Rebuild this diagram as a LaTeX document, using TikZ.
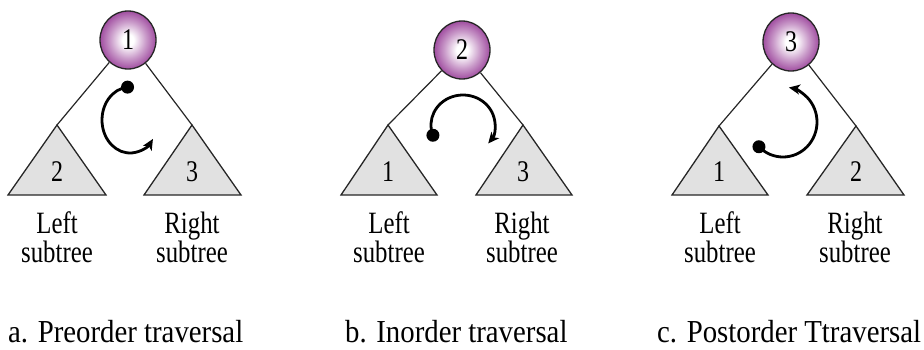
\documentclass[tikz,border=0pt]{standalone}
\usepackage{fontspec}
\setmainfont{Liberation Serif}
\usepackage{graphicx}
\usetikzlibrary{shapes.geometric, arrows.meta}

\definecolor{rootpurple}{RGB}{135,30,135}
\definecolor{treegray}{RGB}{225,225,225}
\pgfdeclareradialshading{rootshade}{\pgfpoint{0bp}{0bp}}{color(0bp)=(white); color(5bp)=(white); color(16bp)=(rootpurple!45!white); color(28bp)=(rootpurple!90!white); color(50bp)=(rootpurple!80!black)}

\newcommand{\narrowtxt}[1]{\scalebox{0.8}[1]{#1}}
\newcommand{\capttxt}[1]{\scalebox{0.9}[1]{#1}}

\tikzset{
  rootnode/.style={ellipse, draw=black!85, line width=1.3pt, shade, shading=rootshade, inner sep=0pt, minimum width=56pt, minimum height=58pt, font=\fontsize{30}{30}\selectfont},
  subtree/.style={fill=treegray, draw=black!85, line width=1.3pt},
  branch/.style={draw=black!85, line width=1.2pt},
  travarrow/.style={line width=2.8pt, -{Stealth[length=11pt, width=10pt, inset=3pt]}},
  travdot/.style={fill=black},
  digit/.style={inner sep=0pt, font=\fontsize{30}{30}\selectfont},
  sublabel/.style={inner sep=0pt, anchor=base, font=\fontsize{31}{31}\selectfont},
  captionlbl/.style={inner sep=0pt, anchor=base west, font=\fontsize{32}{32}\selectfont}
}

\begin{document}
\begin{tikzpicture}[x=1pt, y=1pt]
\useasboundingbox (0,0) rectangle (924,349);

% a. Preorder: root and subtrees
\node[rootnode] (a-root) at (128,309) {\narrowtxt{1}};
\filldraw[subtree] (8,154) -- (57,224) coordinate (a-lt) -- (106,154) -- cycle;
\filldraw[subtree] (144,154) -- (192,224) coordinate (a-rt) -- (241,154) -- cycle;
\draw[branch] (a-root) -- (a-lt);
\draw[branch] (a-root) -- (a-rt);
\node[digit] (a-n2) at (57,177) {\narrowtxt{2}};
\node[digit] (a-n3) at (192,177) {\narrowtxt{3}};
\node[sublabel] (a-left) at (57,116) {\narrowtxt{Left}};
\node[sublabel] (a-lsub) at (57,87) {\narrowtxt{subtree}};
\node[sublabel] (a-right) at (192,116) {\narrowtxt{Right}};
\node[sublabel] (a-rsub) at (192,87) {\narrowtxt{subtree}};
% a. traversal arrow
\draw[travarrow] (130,229) ++(95:28 and 33) coordinate (a-dot) arc[start angle=95, end angle=325, x radius=28, y radius=33];
\fill[travdot] (a-dot) circle (6.5);

% b. Inorder: root and subtrees
\node[rootnode] (b-root) at (462,299) {\narrowtxt{2}};
\filldraw[subtree] (341,154) -- (388,224) coordinate (b-lt) -- (437,154) -- cycle;
\filldraw[subtree] (476,154) -- (523,224) coordinate (b-rt) -- (572,154) -- cycle;
\draw[branch] (b-root) -- (b-lt);
\draw[branch] (b-root) -- (b-rt);
\node[digit] (b-n1) at (388,177) {\narrowtxt{1}};
\node[digit] (b-n3) at (523,177) {\narrowtxt{3}};
\node[sublabel] (b-left) at (389,116) {\narrowtxt{Left}};
\node[sublabel] (b-lsub) at (389,87) {\narrowtxt{subtree}};
\node[sublabel] (b-right) at (522,116) {\narrowtxt{Right}};
\node[sublabel] (b-rsub) at (522,87) {\narrowtxt{subtree}};
% b. traversal arrow
\draw[travarrow] (463,224) ++(200:32 and 30) coordinate (b-dot) arc[start angle=200, end angle=-38, x radius=32, y radius=30];
\fill[travdot] (b-dot) circle (6.5);

% c. Postorder: root and subtrees
\node[rootnode] (c-root) at (791,307) {\narrowtxt{3}};
\filldraw[subtree] (672,154) -- (719,223) coordinate (c-lt) -- (768,154) -- cycle;
\filldraw[subtree] (807,154) -- (856,223) coordinate (c-rt) -- (904,154) -- cycle;
\draw[branch] (c-root) -- (c-lt);
\draw[branch] (c-root) -- (c-rt);
\node[digit] (c-n1) at (719,177) {\narrowtxt{1}};
\node[digit] (c-n2) at (856,177) {\narrowtxt{2}};
\node[sublabel] (c-left) at (720,116) {\narrowtxt{Left}};
\node[sublabel] (c-lsub) at (720,87) {\narrowtxt{subtree}};
\node[sublabel] (c-right) at (855,116) {\narrowtxt{Right}};
\node[sublabel] (c-rsub) at (855,87) {\narrowtxt{subtree}};
% c. traversal arrow
\draw[travarrow] (783,227) ++(225:34 and 35) coordinate (c-dot) arc[start angle=225, end angle=440, x radius=34, y radius=35];
\fill[travdot] (c-dot) circle (6.5);

% captions
\node[captionlbl] (a-cap) at (8,7) {\capttxt{a. Preorder traversal}};
\node[captionlbl] (b-cap) at (345,7) {\capttxt{b. Inorder traversal}};
\node[captionlbl] (c-cap) at (657,7) {\capttxt{c. Postorder Ttraversal}};

\end{tikzpicture}
\end{document}
